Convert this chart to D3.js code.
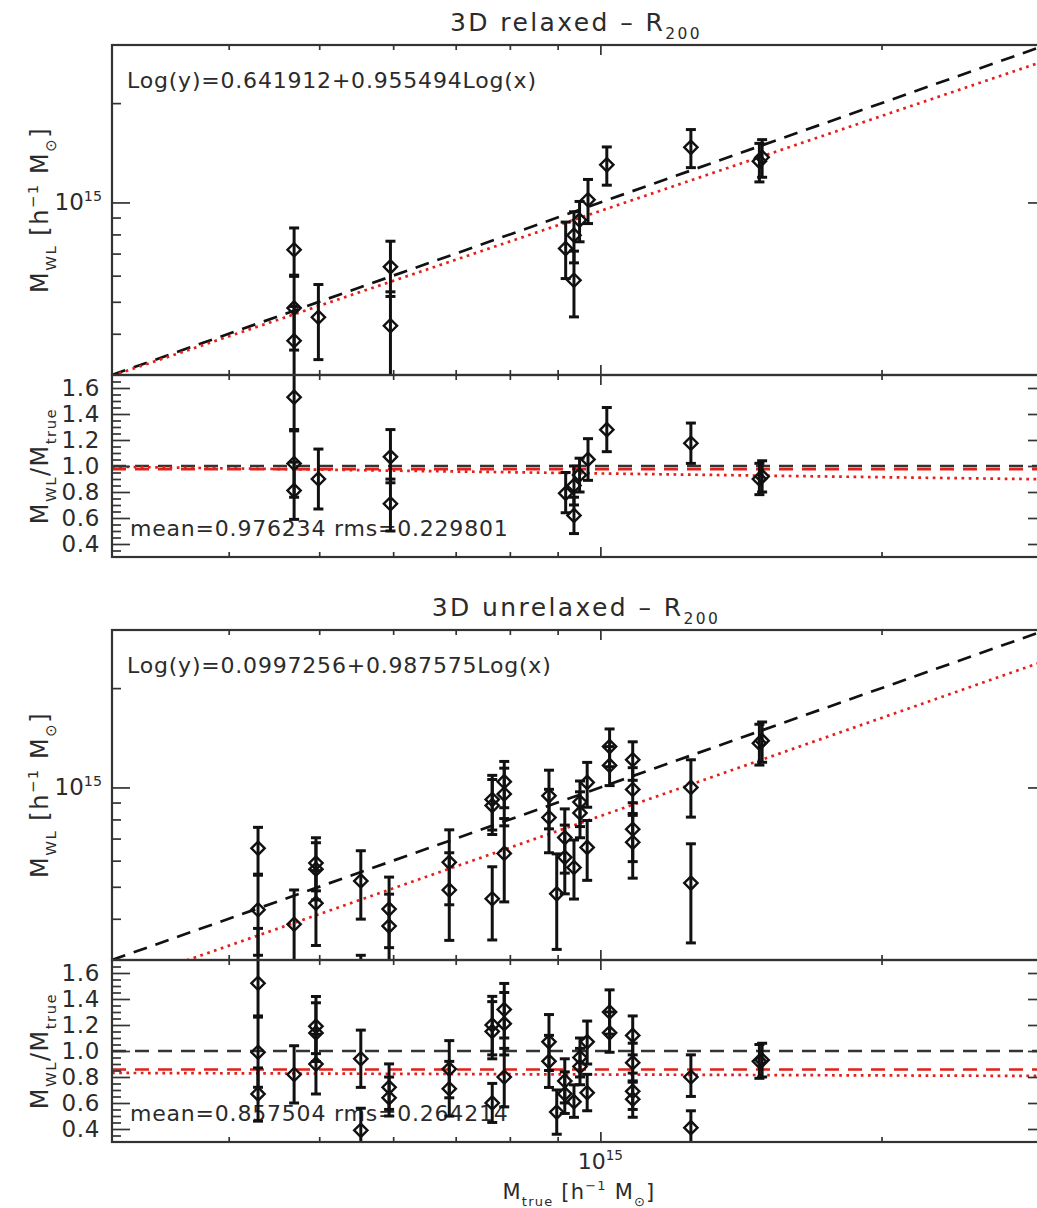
<!DOCTYPE html>
<html>
<head>
<meta charset="utf-8">
<script src="https://cdn.jsdelivr.net/npm/d3@7/dist/d3.min.js"></script>
<style>
  html, body { margin: 0; padding: 0; background: #fff; }
  svg text { font-family: "DejaVu Sans", "Liberation Sans", sans-serif; fill: #2b2b2b; }
</style>
</head>
<body>
<svg id="chart" width="1037" height="1208"></svg>
<script>
// Cluster masses, in units of 1e14 h^-1 M_sun
const relaxedTrue = [4.70, 4.70, 4.70, 4.99, 5.96, 5.96, 9.18, 9.37, 9.37, 9.50, 9.70, 10.16, 12.5, 14.8, 14.9];
const relaxedWL   = [7.19, 4.79, 3.81, 4.49, 6.38, 4.23, 7.25, 7.96, 5.81, 8.84, 10.19, 13.00, 14.69, 13.32, 13.71];
const relaxedLo   = [5.97, 3.57, 2.77, 3.34, 5.19, 2.98, 5.88, 6.56, 4.50, 7.60, 8.63, 11.28, 12.75, 11.54, 11.92];
const relaxedHi   = [8.37, 6.02, 4.84, 5.64, 7.63, 5.36, 8.72, 9.37, 7.12, 10.07, 11.74, 14.73, 16.63, 15.10, 15.50];

const unrelaxedTrue = [4.30, 4.30, 4.30, 4.70, 4.96, 4.96, 4.96, 5.54, 5.54, 5.94, 5.94, 6.89, 6.89,
  7.66, 7.66, 7.66, 7.89, 7.89, 7.89, 8.81, 8.81, 8.98, 9.16, 9.16, 9.37, 9.51, 9.51, 9.68, 9.68,
  10.23, 10.23, 10.83, 10.83, 10.83, 10.83, 12.5, 12.5, 14.8, 14.9];
const unrelaxedWL = [6.54, 4.26, 2.88, 3.85, 5.90, 5.65, 4.46, 5.21, 2.16, 4.28, 3.80, 5.93, 4.89,
  9.19, 8.81, 4.60, 10.41, 9.55, 6.31, 9.43, 8.11, 4.76, 7.05, 6.14, 5.72, 9.03, 8.37, 10.36, 6.58,
  13.30, 11.66, 12.13, 9.86, 7.47, 6.82, 10.00, 5.13, 13.62, 13.86];
const unrelaxedLo = [5.46, 3.10, 1.98, 2.82, 4.86, 4.56, 3.32, 3.99, 1.22, 3.27, 2.97, 4.41, 3.44,
  7.43, 7.20, 3.45, 8.68, 7.65, 4.50, 7.49, 6.34, 3.23, 5.50, 4.76, 4.59, 7.61, 7.04, 8.71, 5.23,
  11.56, 10.13, 10.51, 8.23, 5.96, 5.31, 8.13, 3.38, 11.69, 11.92];
const unrelaxedHi = [7.57, 5.42, 3.74, 4.89, 7.04, 6.80, 5.60, 6.43, 3.10, 5.35, 4.75, 7.44, 6.34,
  10.88, 10.57, 5.75, 11.99, 11.44, 8.05, 11.28, 9.87, 6.29, 8.61, 7.69, 6.93, 10.46, 9.70, 11.91, 7.94,
  15.04, 13.30, 13.75, 11.48, 8.99, 8.34, 12.13, 6.75, 15.54, 15.79];

// Fit coefficients [intercept, slope] and ratio statistics [mean, rms]
const relaxedFit = [0.641912, 0.955494];
const relaxedStats = [0.976234, 0.229801];
const unrelaxedFit = [0.0997256, 0.987575];
const unrelaxedStats = [0.857504, 0.264214];

// Axis ranges and ticks
const massDomain = [3, 30];
const ratioDomain = [0.3, 1.7];
const massMajorTicks = [10];
const massMinorTicks = [4, 5, 6, 7, 8, 9, 20];
const ratioMajorTicks = [0.4, 0.6, 0.8, 1.0, 1.2, 1.4, 1.6];
const ratioMinorTicks = [0.35, 0.45, 0.5, 0.55, 0.65, 0.7, 0.75, 0.85, 0.9, 0.95,
  1.05, 1.1, 1.15, 1.25, 1.3, 1.35, 1.45, 1.5, 1.55, 1.65];

const plotLeft = 112, plotRight = 1046;
const FS = 22;
const RED = "#e3201b", INK = "#111";

const svg = d3.select("#chart");
const defs = svg.append("defs");

// Append text pieces with sub/superscripts as tspans
function addRich(sel, parts, size) {
  let shift = 0;
  parts.forEach(p => {
    const target = p.s === "sub" ? size * 0.32 : p.s === "sup" ? -size * 0.42 : 0;
    sel.append("tspan")
      .attr("dy", target - shift)
      .attr("font-size", p.s ? size * 0.62 : size)
      .text(p.t);
    shift = target;
  });
}

const massLabel = [{t: "M"}, {t: "WL", s: "sub"}, {t: " [h"}, {t: "−1", s: "sup"}, {t: " M"}, {t: "⊙", s: "sub"}, {t: "]"}];
const ratioLabel = [{t: "M"}, {t: "WL", s: "sub"}, {t: "/M"}, {t: "true", s: "sub"}];
const trueLabel = [{t: "M"}, {t: "true", s: "sub"}, {t: " [h"}, {t: "−1", s: "sup"}, {t: " M"}, {t: "⊙", s: "sub"}, {t: "]"}];

function styleAxis(a) {
  a.select(".domain").remove();
  a.selectAll(".tick line").attr("stroke", "#333").attr("stroke-width", 1.7);
  a.selectAll(".tick text").attr("fill", "#2b2b2b").attr("font-size", 23)
    .attr("font-family", '"DejaVu Sans", sans-serif').attr("letter-spacing", 0.6);
}

function drawFigure(spec) {
  const x = d3.scaleLog().domain(massDomain).range([plotLeft, plotRight]);
  const y = d3.scaleLog().domain(massDomain).range([spec.mid, spec.top]);
  const r = d3.scaleLinear().domain(ratioDomain).range([spec.bottom, spec.mid]);
  const g = svg.append("g");

  const clipMain = "clip-main-" + spec.id, clipRatio = "clip-ratio-" + spec.id;
  defs.append("clipPath").attr("id", clipMain).append("rect")
    .attr("x", plotLeft).attr("y", spec.top).attr("width", plotRight - plotLeft).attr("height", spec.mid - spec.top);
  defs.append("clipPath").attr("id", clipRatio).append("rect")
    .attr("x", plotLeft).attr("y", spec.mid).attr("width", plotRight - plotLeft).attr("height", spec.bottom - spec.mid);

  // Title
  const title = g.append("text").attr("x", (plotLeft + plotRight) / 2 - 3).attr("y", spec.top - 14)
    .attr("text-anchor", "middle").attr("letter-spacing", 2.4);
  addRich(title, [{t: spec.title + "  –  R"}, {t: "200", s: "sub"}], 25);

  // Annotations inside the panels
  g.append("text").attr("x", plotLeft + 15).attr("y", spec.top + 43).attr("font-size", FS)
    .attr("letter-spacing", 0.8)
    .text(`Log(y)=${spec.fit[0]}+${spec.fit[1]}Log(x)`);
  g.append("text").attr("x", plotLeft + 18).attr("y", spec.bottom - 21).attr("font-size", FS)
    .attr("letter-spacing", 0.8)
    .text(`mean=${spec.stats[0]}  rms=${spec.stats[1]}`);

  // Axis titles
  const yt1 = g.append("text").attr("text-anchor", "middle").attr("letter-spacing", 1.5)
    .attr("transform", `translate(48,${(spec.top + spec.mid) / 2}) rotate(-90)`);
  addRich(yt1, massLabel, 24);
  const yt2 = g.append("text").attr("text-anchor", "middle").attr("letter-spacing", 1.5)
    .attr("transform", `translate(48,${(spec.mid + spec.bottom) / 2}) rotate(-90)`);
  addRich(yt2, ratioLabel, 24);

  const fitMass = v => Math.pow(10, spec.fit[0] + spec.fit[1] * Math.log10(v * 1e14)) / 1e14;
  const fitRatio = v => fitMass(v) / v;

  // Reference lines, main panel
  const mg = g.append("g").attr("clip-path", `url(#${clipMain})`);
  mg.append("path").attr("d", d3.line()(massDomain.map(v => [x(v), y(v)])))
    .attr("fill", "none").attr("stroke", INK).attr("stroke-width", 2.7).attr("stroke-dasharray", "14 9");
  mg.append("path").attr("d", d3.line()(massDomain.map(v => [x(v), y(fitMass(v))])))
    .attr("fill", "none").attr("stroke", RED).attr("stroke-width", 2.7).attr("stroke-dasharray", "2.7 4.5");

  // Reference lines, ratio panel
  const rg = g.append("g").attr("clip-path", `url(#${clipRatio})`);
  rg.append("line").attr("x1", plotLeft).attr("x2", plotRight).attr("y1", r(1)).attr("y2", r(1))
    .attr("stroke", "#333").attr("stroke-width", 2.7).attr("stroke-dasharray", "14 9");
  rg.append("line").attr("x1", plotLeft).attr("x2", plotRight).attr("y1", r(spec.stats[0])).attr("y2", r(spec.stats[0]))
    .attr("stroke", RED).attr("stroke-width", 2.7).attr("stroke-dasharray", "14 9");
  const samples = d3.range(0, 41).map(i => massDomain[0] * Math.pow(massDomain[1] / massDomain[0], i / 40));
  rg.append("path").attr("d", d3.line()(samples.map(v => [x(v), r(fitRatio(v))])))
    .attr("fill", "none").attr("stroke", RED).attr("stroke-width", 2.7).attr("stroke-dasharray", "2.7 4.5");

  // Data
  const pts = spec.mTrue.map((t, i) => ({t, wl: spec.mWL[i], lo: spec.lo[i], hi: spec.hi[i]}));
  const diamond = d3.symbol(d3.symbolSquare, 88)();
  const cap = 5;

  function drawPoints(layer, yOf) {
    const sel = layer.selectAll("g.pt").data(pts).join("g").attr("class", "pt");
    sel.append("line").attr("x1", d => x(d.t)).attr("x2", d => x(d.t))
      .attr("y1", d => yOf(d, "lo")).attr("y2", d => yOf(d, "hi"))
      .attr("stroke", INK).attr("stroke-width", 3);
    ["lo", "hi"].forEach(k => {
      sel.append("line").attr("x1", d => x(d.t) - cap).attr("x2", d => x(d.t) + cap)
        .attr("y1", d => yOf(d, k)).attr("y2", d => yOf(d, k))
        .attr("stroke", INK).attr("stroke-width", 3);
    });
    sel.append("path").attr("d", diamond)
      .attr("transform", d => `translate(${x(d.t)},${yOf(d, "wl")}) rotate(45)`)
      .attr("fill", "none").attr("stroke", INK).attr("stroke-width", 2.4);
  }
  drawPoints(mg, (d, k) => y(d[k]));
  drawPoints(rg, (d, k) => r(d[k] / d.t));

  // Ticks (pointing inward on every side)
  const xTicks = (yPos, top) => {
    [[massMinorTicks, 5], [massMajorTicks, 10]].forEach(([vals, len]) => {
      const ax = (top ? d3.axisTop(x) : d3.axisBottom(x)).tickValues(vals).tickSize(-len).tickFormat("");
      styleAxis(g.append("g").attr("transform", `translate(0,${yPos})`).call(ax));
    });
  };
  xTicks(spec.top, true);
  xTicks(spec.mid, false);
  xTicks(spec.mid, true);
  xTicks(spec.bottom, false);

  [[d3.axisLeft, plotLeft], [d3.axisRight, plotRight]].forEach(([axisFn, xPos], side) => {
    styleAxis(g.append("g").attr("transform", `translate(${xPos},0)`)
      .call(axisFn(y).tickValues(massMinorTicks).tickSize(-9).tickFormat("")));
    styleAxis(g.append("g").attr("transform", `translate(${xPos},0)`)
      .call(axisFn(y).tickValues(massMajorTicks).tickSize(-18).tickFormat("")));
    styleAxis(g.append("g").attr("transform", `translate(${xPos},0)`)
      .call(axisFn(r).tickValues(ratioMinorTicks).tickSize(-9).tickFormat("")));
    styleAxis(g.append("g").attr("transform", `translate(${xPos},0)`)
      .call(axisFn(r).tickValues(ratioMajorTicks).tickSize(-18).tickPadding(12)
        .tickFormat(side === 0 ? d3.format(".1f") : "")));
  });

  // 10^15 label on the mass axis
  massMajorTicks.forEach(v => {
    const t = g.append("text").attr("x", plotLeft - 10).attr("y", y(v) + 8).attr("text-anchor", "end");
    addRich(t, [{t: "10"}, {t: "15", s: "sup"}], 23);
  });

  // Frames
  [[spec.top, spec.mid], [spec.mid, spec.bottom]].forEach(([a, b]) => {
    g.append("rect").attr("x", plotLeft).attr("y", a).attr("width", plotRight - plotLeft).attr("height", b - a)
      .attr("fill", "none").attr("stroke", "#333").attr("stroke-width", 2.2);
  });

  if (spec.xLabels) {
    massMajorTicks.forEach(v => {
      const t = g.append("text").attr("x", x(v)).attr("y", spec.bottom + 27).attr("text-anchor", "middle");
      addRich(t, [{t: "10"}, {t: "15", s: "sup"}], 22);
    });
    const xt = g.append("text").attr("x", (plotLeft + plotRight) / 2).attr("y", spec.bottom + 57)
      .attr("text-anchor", "middle").attr("letter-spacing", 1.2);
    addRich(xt, trueLabel, 21);
  }
}

drawFigure({id: "rel", title: "3D relaxed", top: 45, mid: 375, bottom: 557,
  mTrue: relaxedTrue, mWL: relaxedWL, lo: relaxedLo, hi: relaxedHi,
  fit: relaxedFit, stats: relaxedStats, xLabels: false});
drawFigure({id: "unrel", title: "3D unrelaxed", top: 630, mid: 960, bottom: 1142,
  mTrue: unrelaxedTrue, mWL: unrelaxedWL, lo: unrelaxedLo, hi: unrelaxedHi,
  fit: unrelaxedFit, stats: unrelaxedStats, xLabels: true});
</script>
</body>
</html>
